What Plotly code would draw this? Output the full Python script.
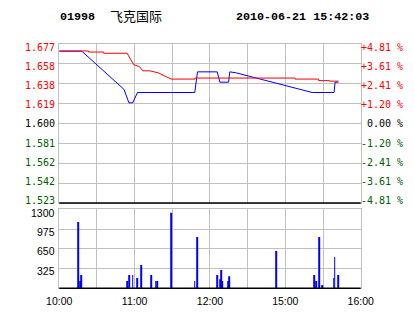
import plotly.graph_objects as go

# ---------------- data ----------------
stock_code = "01998"
stock_name = "飞克国际"
timestamp = "2010-06-21 15:42:03"
prev_close = 1.600

# minutes since 10:00 on the compressed session axis (10:00-12:30, 14:30-16:00)
price_minutes = [0, 18, 51.6, 54.7, 55.5, 58.5, 62.3, 107.9, 110.1, 125.8, 127.9,
                 134.8, 135.8, 141.0, 201.4, 218.8, 219.6, 222.3]
price_values = [1.670, 1.670, 1.633, 1.623, 1.620, 1.620, 1.630, 1.630, 1.650, 1.650, 1.640,
                1.640, 1.650, 1.649, 1.630, 1.630, 1.640, 1.640]

avg_minutes = [0, 23.3, 23.3, 35.4, 35.4, 54.0, 59.3, 64.0, 66.5, 72.0, 79.0, 84.0, 89.0,
               108.0, 108.0, 187.7, 187.7, 206.4, 206.4, 215.1, 215.1, 222.3]
avg_values = [1.6702, 1.6702, 1.6692, 1.6692, 1.668, 1.668, 1.657, 1.655, 1.651, 1.651,
              1.649, 1.646, 1.643, 1.643, 1.644, 1.644, 1.643, 1.643, 1.6415, 1.6415,
              1.641, 1.641]

vol_minutes = [15.2, 16.7, 17.4, 54.4, 55.5, 58.5, 62.3, 65.3, 73.5, 76.8, 78.3, 89.5,
               107.9, 110.1, 125.8, 128.1, 128.8, 129.6, 134.8, 135.6, 172.9, 202.8,
               204.3, 207.3, 209.6, 218.5, 219.3, 222.3]
volumes = [1090, 120, 220, 120, 220, 220, 170, 385, 220, 120, 120, 1245, 120, 845, 220,
           150, 300, 120, 120, 200, 615, 220, 120, 845, 55, 170, 515, 220]

pct_values = [4.81, 3.61, 2.41, 1.20, 0.0, -1.20, -2.41, -3.61, -4.81]
price_labels = ["1.677", "1.658", "1.638", "1.619", "1.600", "1.581", "1.562", "1.542", "1.523"]
pct_labels = ["+4.81 %", "+3.61 %", "+2.41 %", "+1.20 %", "\u00a00.00 %",
              "-1.20 %", "-2.41 %", "-3.61 %", "-4.81 %"]
vol_ticks = [1300, 975, 650, 325]
vol_labels = ["1300", "975", "650", "325"]
time_ticks = [0, 30, 60, 90, 120, 150, 180, 210, 240]
time_labels = ["10:00", "", "11:00", "", "12:00", "", "15:00", "", "16:00"]

# ---------------- styling ----------------
W, H = 414, 314
RED, GREEN, BLACK, BLUE = "#ff0000", "#006000", "#000000", "#0000ff"
GRID = "#c0c0c0"
MONO = "DejaVu Sans Mono"
SANS = "Liberation Sans"


def colour(v):
    return RED if v > 0 else (GREEN if v < 0 else BLACK)


price_tickvals = [prev_close * (1 + p / 100) for p in pct_values]
y_range = [prev_close * (1 - pct_values[0] / 100), prev_close * (1 + pct_values[0] / 100)]

px_x = lambda px: px / W
px_y = lambda py: 1 - py / H

xdom = [px_x(49.3), px_x(371)]
main_dom = [px_y(203), px_y(44)]
vol_dom = [px_y(288.3), px_y(209.3)]

fig = go.Figure()
fig.add_trace(go.Scatter(x=price_minutes, y=price_values, mode="lines",
                         line=dict(color=BLUE, width=1), xaxis="x", yaxis="y",
                         hoverinfo="skip"))
fig.add_trace(go.Scatter(x=avg_minutes, y=avg_values, mode="lines",
                         line=dict(color=RED, width=1), xaxis="x", yaxis="y",
                         hoverinfo="skip"))
fig.add_trace(go.Bar(x=vol_minutes, y=volumes, width=0.7,
                     marker=dict(color=BLUE, line=dict(width=0)),
                     xaxis="x2", yaxis="y3", hoverinfo="skip"))

common_x = dict(range=[0, 240], tickvals=time_ticks, showgrid=True, gridcolor=GRID,
                gridwidth=1, showline=True, linecolor=GRID, mirror=True, zeroline=False,
                domain=xdom, fixedrange=True)


def label(text, xpx, ypx, anchor, font):
    return dict(text=text, x=px_x(xpx), y=px_y(ypx), xref="paper", yref="paper",
                xanchor=anchor, yanchor="middle", align=anchor, showarrow=False,
                borderpad=0, borderwidth=0, font=font)


annotations = []
# left price labels and right percent labels (evenly spaced text rows)
for k, (p, lab, plab) in enumerate(zip(pct_values, price_labels, pct_labels)):
    ypx = 47.5 + k * 19.1
    f = dict(family=MONO, size=10, color=colour(p))
    annotations.append(label(lab, 44.5, ypx, "right", f))
    annotations.append(label(plab, 371.5, ypx, "left", f))
# volume labels
for k, lab in enumerate(vol_labels):
    annotations.append(label(lab, 44.5, 213 + k * 19.2, "right",
                             dict(family=SANS, size=10.5, color=BLACK)))
# header
hdr = dict(family="Liberation Mono", size=11.7, color=BLACK)
annotations += [
    label("<b>%s</b>" % stock_code, 50, 17, "left", hdr),
    label(stock_name, 104, 15.5, "left", dict(family="Noto Sans CJK SC", size=13, color=BLACK)),
    label("<b>%s</b>" % timestamp, 237.5, 17, "left", hdr),
]

fig.update_layout(
    width=W, height=H, margin=dict(l=0, r=0, t=0, b=0),
    paper_bgcolor="white", plot_bgcolor="white", showlegend=False,
    xaxis=dict(common_x, anchor="y", showticklabels=False, ticks=""),
    xaxis2=dict(common_x, anchor="y3", ticktext=time_labels, ticks="outside", ticklen=3,
                tickcolor="rgba(0,0,0,0)",
                tickfont=dict(family=SANS, size=10.5, color=BLACK)),
    yaxis=dict(domain=main_dom, range=y_range, tickvals=price_tickvals, showticklabels=False,
               showgrid=True, gridcolor=GRID, zeroline=False, ticks="",
               showline=True, linecolor=GRID, mirror=True, anchor="x", fixedrange=True),
    yaxis3=dict(domain=vol_dom, range=[0, 1300], tickvals=vol_ticks, showticklabels=False,
                showgrid=True, gridcolor=GRID, zeroline=False, showline=True, ticks="",
                linecolor=GRID, mirror=True, anchor="x2", fixedrange=True),
    shapes=[
        dict(type="line", xref="x domain", yref="y", x0=0, x1=1, y0=prev_close, y1=prev_close,
             line=dict(color=BLACK, width=1), layer="below"),
        dict(type="line", xref="x domain", yref="y domain", x0=0, x1=1, y0=0, y1=0,
             line=dict(color=BLACK, width=1.5)),
        dict(type="line", xref="x2 domain", yref="y3 domain", x0=0, x1=1, y0=0, y1=0,
             line=dict(color=BLACK, width=1.5)),
    ],
    annotations=annotations,
)

fig.write_html("out.html", config=dict(displayModeBar=False))
